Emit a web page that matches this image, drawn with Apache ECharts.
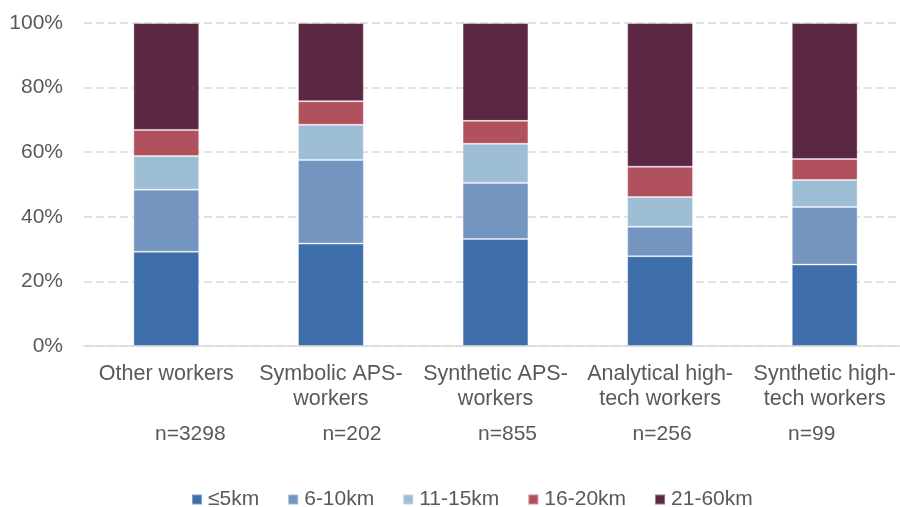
<!DOCTYPE html>
<html>
<head>
<meta charset="utf-8">
<script src="https://cdn.jsdelivr.net/npm/echarts@6/dist/echarts.min.js"></script>
<style>
  html, body { margin: 0; padding: 0; background: #ffffff; overflow: hidden; }
  #chart { width: 907px; height: 507px; }
</style>
</head>
<body>
<div id="chart"></div>
<script>
// Commuting distance shares (%) by worker group
const categories = [
  ['Other workers'],
  ['Symbolic APS-', 'workers'],
  ['Synthetic APS-', 'workers'],
  ['Analytical high-', 'tech workers'],
  ['Synthetic high-', 'tech workers']
];
const sampleSizes = ['n=3298', 'n=202', 'n=855', 'n=256', 'n=99'];

const seriesNames = ['≤5km', '6-10km', '11-15km', '16-20km', '21-60km'];
const upTo5km   = [29.2, 31.7, 33.1, 27.8, 25.2];
const km6to10   = [19.2, 25.9, 17.4,  9.1, 17.8];
const km11to15  = [10.4, 10.9, 12.1,  9.2,  8.4];
const km16to20  = [ 8.1,  7.3,  7.1,  9.4,  6.5];
const km21to60  = [33.1, 24.2, 30.3, 44.5, 42.1];

const yTicks = [0, 20, 40, 60, 80, 100];

const colors = ['#3f6faa', '#7395bf', '#9ebed5', '#b2515e', '#5c2742'];
const seriesData = [upTo5km, km6to10, km11to15, km16to20, km21to60];

// sample-size labels sit slightly off-centre under each group
const nPadding = [[0,0,0,48], [0,0,0,42], [0,0,0,24], [0,0,0,4], [0,26,0,0]];

const FONT = 'Liberation Sans';
const rich = { a: { fontSize: 21.5, lineHeight: 25, color: '#595959', fontFamily: FONT } };
nPadding.forEach((p, i) => {
  rich['n' + i] = { fontSize: 21, lineHeight: 45, color: '#595959', fontFamily: FONT, padding: p };
});

const chart = echarts.init(document.getElementById('chart'), null, { renderer: 'canvas' });
chart.setOption({
  animation: false,
  backgroundColor: '#ffffff',
  textStyle: { fontFamily: FONT },
  grid: { left: 84, right: 0, top: 23, bottom: 161, containLabel: false },
  legend: {
    left: 186,
    top: 484,
    itemWidth: 10,
    itemHeight: 10,
    itemGap: 28,
    icon: 'rect',
    textStyle: { fontSize: 21, color: '#595959', fontFamily: FONT, padding: [0, 0, 0, 1] },
    data: seriesNames
  },
  xAxis: {
    type: 'category',
    data: categories.map((c, i) => i),
    axisLine: { show: true, lineStyle: { color: '#d9d9d9', width: 1.5 } },
    axisTick: { show: false },
    axisLabel: {
      interval: 0,
      margin: 16,
      formatter: (v, i) => {
        const lines = categories[i].slice();
        if (lines.length < 2) lines.push(' ');
        return lines.map(l => '{a|' + l + '}').join('\n') + '\n{n' + i + '|' + sampleSizes[i] + '}';
      },
      rich: rich
    }
  },
  yAxis: {
    type: 'value',
    min: yTicks[0],
    max: yTicks[yTicks.length - 1],
    interval: 20,
    axisLine: { show: false },
    axisTick: { show: false },
    axisLabel: { formatter: '{value}%', fontSize: 21, color: '#595959', margin: 21, fontFamily: FONT },
    splitLine: { show: true, lineStyle: { color: '#d9d9d9', width: 1.5, type: [8, 4] } }
  },
  series: seriesNames.map((name, k) => ({
    name: name,
    type: 'bar',
    stack: 'share',
    barWidth: '40%',
    data: seriesData[k],
    itemStyle: { color: colors[k], borderColor: 'rgba(255,255,255,0.35)', borderWidth: 1 }
  }))
});
</script>
</body>
</html>
